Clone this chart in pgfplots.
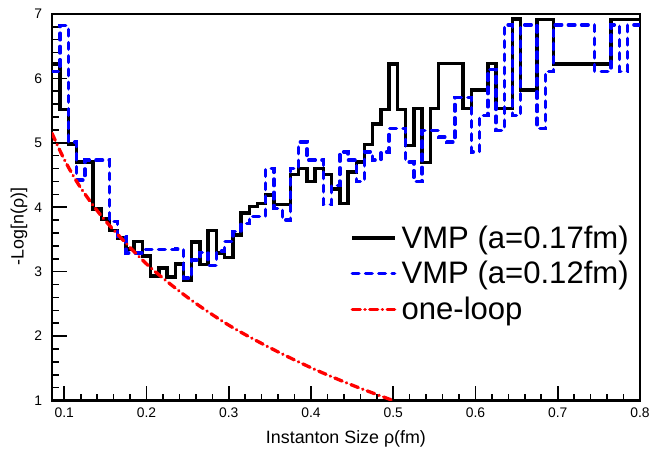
\documentclass[border=0pt]{standalone}
\usepackage{pgfplots}
\usepackage{pgfplotstable}
\pgfplotsset{compat=1.18}
\usepackage{fontspec}
\setmainfont{Liberation Sans}
\setsansfont{Liberation Sans}

% left bin edge, -Log[n(rho)]
\pgfplotstableread{
x y
0.085 6.23
0.095 5.52
0.105 4.98
0.115 4.70
0.125 4.70
0.135 3.97
0.145 3.82
0.155 3.64
0.165 3.52
0.175 3.35
0.185 3.47
0.195 3.24
0.205 2.93
0.215 3.06
0.225 2.92
0.235 3.12
0.245 2.87
0.255 3.46
0.265 3.11
0.275 3.64
0.285 3.29
0.295 3.22
0.305 3.57
0.315 3.91
0.325 4.01
0.335 4.06
0.345 4.19
0.355 4.04
0.365 4.04
0.375 4.51
0.385 4.60
0.395 4.40
0.405 4.60
0.415 4.51
0.425 4.28
0.435 4.06
0.445 4.55
0.455 4.70
0.465 4.97
0.475 5.29
0.485 5.52
0.495 6.22
0.505 5.52
0.515 4.96
0.525 5.53
0.535 4.69
0.545 5.53
0.555 6.23
0.565 6.23
0.575 6.23
0.585 5.53
0.595 5.82
0.605 5.82
0.615 6.23
0.625 5.53
0.635 5.53
0.645 6.92
0.655 5.82
0.665 5.82
0.675 6.91
0.685 6.91
0.695 6.22
0.705 6.22
0.715 6.22
0.725 6.22
0.735 6.22
0.745 6.22
0.755 6.22
0.765 6.91
0.775 6.91
0.785 6.91
0.800 6.91
}\vmpcoarse

\pgfplotstableread{
x y
0.085 6.11
0.095 6.82
0.105 5.01
0.115 4.42
0.125 4.73
0.135 4.73
0.145 4.73
0.155 3.78
0.165 3.55
0.175 3.29
0.185 3.29
0.195 3.34
0.205 3.34
0.215 3.34
0.225 3.34
0.235 3.35
0.245 2.90
0.255 3.18
0.265 3.30
0.275 3.10
0.285 3.32
0.295 3.47
0.305 3.62
0.315 3.75
0.325 3.86
0.335 3.86
0.345 4.60
0.355 3.98
0.365 3.80
0.375 4.60
0.385 5.01
0.395 4.73
0.405 4.73
0.415 4.04
0.425 4.34
0.435 4.86
0.445 4.73
0.455 4.40
0.465 4.86
0.475 4.73
0.485 4.86
0.495 5.22
0.505 5.22
0.515 4.70
0.525 4.40
0.535 5.19
0.545 5.19
0.555 5.09
0.565 5.01
0.575 5.70
0.585 5.70
0.595 4.86
0.605 5.42
0.615 6.14
0.625 5.19
0.635 6.83
0.645 5.42
0.655 6.83
0.665 6.83
0.675 5.22
0.685 6.11
0.695 6.83
0.705 6.83
0.715 6.83
0.725 6.83
0.735 6.83
0.745 6.11
0.755 6.11
0.765 6.83
0.775 6.11
0.785 6.83
0.800 6.83
}\vmpfine

\pgfplotstableread{
x y
0.085 5.15
0.100 4.74
0.120 4.30
0.150 3.79
0.200 3.12
0.250 2.60
0.300 2.17
0.350 1.82
0.400 1.51
0.450 1.24
0.500 1.00
}\oneloop

\begin{document}
\begin{tikzpicture}
\begin{axis}[
    scale only axis,
    width=444.75pt, height=292.5pt,
    xmin=0.085, xmax=0.8, ymin=1, ymax=7,
    xtick={0.1,0.2,0.3,0.4,0.5,0.6,0.7,0.8},
    xticklabels={0.1,0.2,0.3,0.4,0.5,0.6,0.7,0.8},
    ytick={1,2,3,4,5,6,7},
    yticklabels={1,2,3,4,5,6,7},
    minor x tick num=4, minor y tick num=4,
    tick align=inside, tick pos=left,
    major tick length=11pt, minor tick length=5pt,
    every tick/.style={black, line width=1.2pt},
    axis line style={line width=1.7pt},
    tick label style={font=\fontsize{10.5}{12}\selectfont},
    xticklabel style={yshift=-2pt},
    yticklabel style={xshift=-4pt},
    xlabel={Instanton Size ρ(fm)},
    ylabel={-Log[n(ρ)]},
    label style={font=\fontsize{13.5}{16}\selectfont},
    xlabel style={at={(axis description cs:0.5,0)}, anchor=north, yshift=-19pt},
    ylabel style={at={(axis description cs:-0.056,0.45)}, anchor=center},
    legend style={draw=none, fill=none, at={(axis cs:0.443,3.80)}, anchor=north west,
        font=\fontsize{23.5}{28}\selectfont, row sep=4.5pt,
        nodes={inner xsep=4pt}},
    legend cell align=left,
    legend image code/.code={\draw[#1] (0pt,0pt) -- (32pt,0pt);},
]
\addplot[const plot mark left, black, line width=2.6pt] table {\vmpcoarse};
\addlegendentry{VMP (a=0.17fm)}
\addplot[const plot mark left, blue, line width=2.6pt, line cap=round,
    dash pattern=on 5pt off 5pt] table {\vmpfine};
\addlegendentry{VMP (a=0.12fm)}
\addplot[smooth, red, line width=2.5pt, line cap=round,
    dash pattern=on 6pt off 3.5pt on 0.2pt off 3.5pt] table {\oneloop};
\addlegendentry{one-loop}
\end{axis}
\path (current axis.south west) ++(-39.3pt,-33.75pt);
\path (current axis.north east) ++(6.75pt,10.5pt);
\end{tikzpicture}
\end{document}
